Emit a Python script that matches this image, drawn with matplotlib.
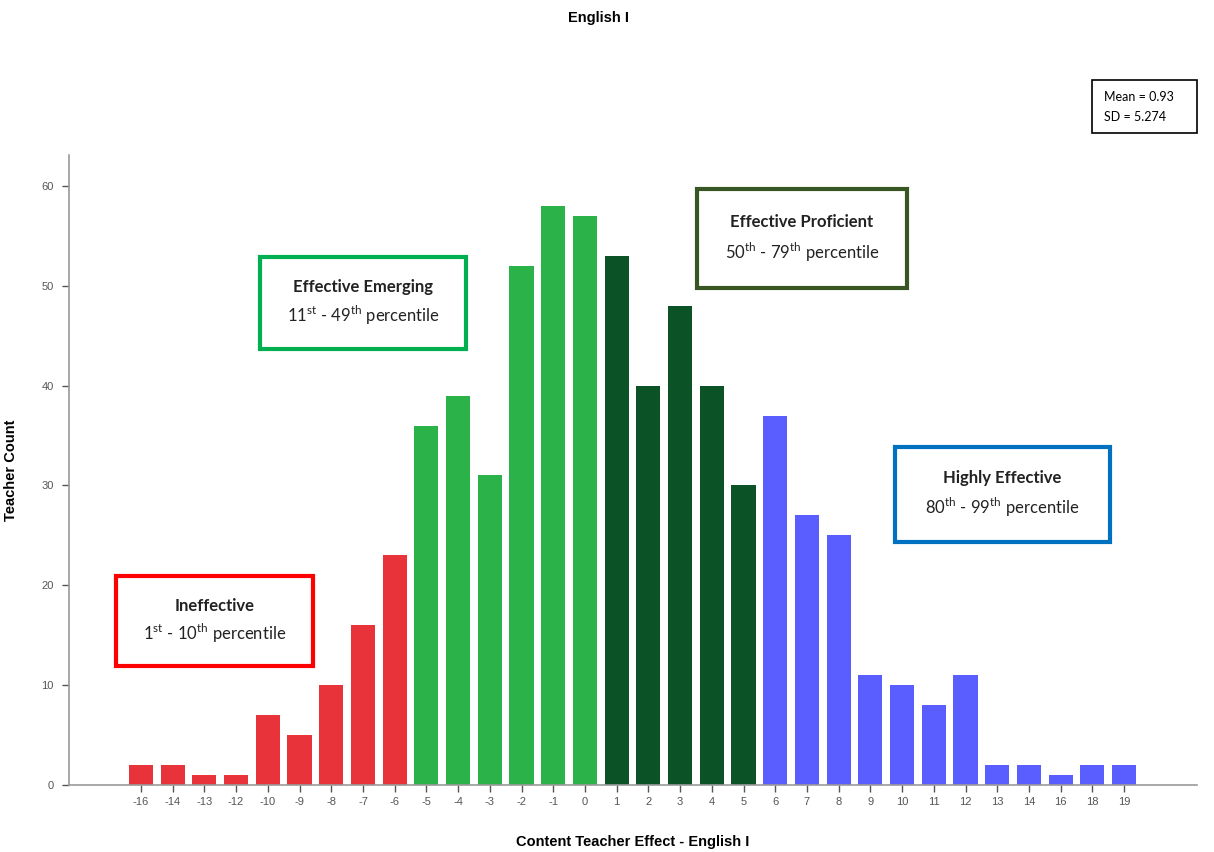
import matplotlib
matplotlib.use("Agg")
import matplotlib.pyplot as plt
from matplotlib.patches import Rectangle

plt.rcParams['font.family'] = ['Liberation Sans', 'DejaVu Sans']
plt.rcParams['mathtext.fontset'] = 'custom'
plt.rcParams['mathtext.rm'] = 'Lato'

effects = [-16, -14, -13, -12, -10, -9, -8, -7, -6, -5, -4, -3, -2, -1, 0,
           1, 2, 3, 4, 5, 6, 7, 8, 9, 10, 11, 12, 13, 14, 16, 18, 19]
counts = [2, 2, 1, 1, 7, 5, 10, 16, 23, 36, 39, 31, 52, 58, 57,
          53, 40, 48, 40, 30, 37, 27, 25, 11, 10, 8, 11, 2, 2, 1, 2, 2]

def band_color(e):
    if e <= -6:
        return '#E8333A'
    if e <= 0:
        return '#2BB34A'
    if e <= 5:
        return '#0B5226'
    return '#5B5EFF'

colors = [band_color(e) for e in effects]

W, H = 1214, 852
fig = plt.figure(figsize=(W / 100, H / 100), dpi=100)
ax = fig.add_axes([69 / W, 1 - 785 / H, (1197 - 69) / W, (785 - 155) / H])

xpos = list(range(len(effects)))
ax.bar(xpos, counts, width=0.76, color=colors, edgecolor='none')
ax.set_xlim(-2.27, 33.3)
ax.set_ylim(0, 63.1)
ax.set_xticks(xpos)
ax.set_xticklabels([str(e) for e in effects])
ax.set_yticks([0, 10, 20, 30, 40, 50, 60])
for s in ['top', 'right']:
    ax.spines[s].set_visible(False)
for s in ['left', 'bottom']:
    ax.spines[s].set_color('#9a9a9a')
    ax.spines[s].set_linewidth(1.2)
ax.tick_params(axis='both', colors='#555555', labelsize=8, length=5, width=1)
ax.tick_params(axis='y', pad=6)

ax.set_xlabel('Content Teacher Effect - English I', fontsize=10.5,
              fontweight='bold', labelpad=20)
ax.set_ylabel('Teacher Count', fontsize=10.5, fontweight='bold')
ax.yaxis.set_label_coords(-0.045, 0.5)
fig.text(598 / W, 1 - 18 / H, 'English I', ha='center', va='center',
         fontsize=10.5, fontweight='bold')

# stats box
fig.patches.append(Rectangle((1092 / W, 1 - 133 / H), 105 / W, 53 / H,
                             transform=fig.transFigure, fill=False,
                             edgecolor='black', linewidth=1.2))
fig.text(1104 / W, 1 - 97 / H, 'Mean = 0.93', fontsize=9, va='center',
         family='Lato')
fig.text(1104 / W, 1 - 117 / H, 'SD = 5.274', fontsize=9, va='center',
         family='Lato')

boxes = [
    (116, 576, 313, 666, '#FF0000', 'Ineffective',
     r'1$^{\mathrm{st}}$ - 10$^{\mathrm{th}}$ percentile'),
    (260, 257, 466, 349, '#00B050', 'Effective Emerging',
     r'11$^{\mathrm{st}}$ - 49$^{\mathrm{th}}$ percentile'),
    (697, 189, 907, 288, '#375623', 'Effective Proficient',
     r'50$^{\mathrm{th}}$ - 79$^{\mathrm{th}}$ percentile'),
    (895, 447, 1110, 542, '#0070C0', 'Highly Effective',
     r'80$^{\mathrm{th}}$ - 99$^{\mathrm{th}}$ percentile'),
]
for x0, y0, x1, y1, ec, title, sub in boxes:
    fig.patches.append(Rectangle((x0 / W, 1 - y1 / H), (x1 - x0) / W,
                                 (y1 - y0) / H, transform=fig.transFigure,
                                 facecolor='white', edgecolor=ec,
                                 linewidth=3, zorder=5))
    cx = (x0 + x1) / 2 / W
    fig.text(cx, 1 - (y0 + 0.33 * (y1 - y0)) / H, title, ha='center',
             va='center', fontsize=12, fontweight='bold', family='Lato',
             color='#222222', zorder=6)
    fig.text(cx, 1 - (y0 + 0.64 * (y1 - y0)) / H, sub, ha='center',
             va='center', fontsize=12, family='Lato', color='#222222',
             zorder=6)

fig.savefig('out.png', dpi=100)
